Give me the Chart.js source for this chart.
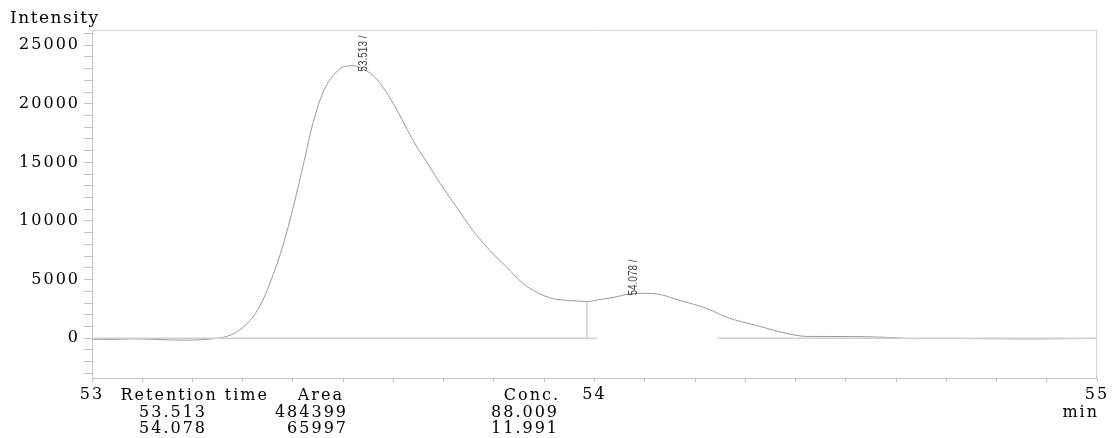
<!DOCTYPE html>
<html>
<head>
<meta charset="utf-8">
<script src="https://cdn.jsdelivr.net/npm/chart.js@4"></script>
<style>
  html, body { margin: 0; padding: 0; background: #fff; }
  #wrap { width: 1113px; height: 438px; }
</style>
</head>
<body>
<div id="wrap"><canvas id="chrom" width="1113" height="438"></canvas></div>
<script>
// chromatogram trace (min / intensity)
var times = [53.000, 53.040, 53.080, 53.120, 53.160, 53.190, 53.215, 53.240, 53.260, 53.280,
  53.300, 53.320, 53.340, 53.360, 53.380, 53.400, 53.420, 53.440, 53.460, 53.480,
  53.500, 53.520, 53.540, 53.560, 53.580, 53.600, 53.620, 53.640, 53.673, 53.693,
  53.726, 53.758, 53.792, 53.826, 53.858, 53.886, 53.917, 53.951, 53.985, 54.011,
  54.037, 54.077, 54.100, 54.124, 54.170, 54.224, 54.264, 54.323, 54.383, 54.423,
  54.500, 54.560, 54.600, 54.630, 54.700, 54.750, 54.800, 54.850, 54.900, 54.950, 55.000]
var intensity = [-80, -110, -60, -100, -150, -170, -140, -60, 60, 350,
  900, 1800, 3250, 5350, 7900, 11100, 14700, 18400, 21000, 22400,
  23150, 23250, 22950, 22400, 21350, 20000, 18400, 16800, 14560, 13200,
  11150, 9190, 7480, 6030, 4660, 3890, 3380, 3210, 3130, 3300,
  3470, 3810, 3830, 3780, 3220, 2530, 1770, 1080, 400, 150,
  140, 100, 30, -40, -20, -40, -50, -70, -60, -40, -30]

// integration baseline (null breaks the line) and the split between peaks
var baseTimes = [53.000, 54.005, 54.100, 54.245, 55.000]
var baseValues = [0, 0, null, 0, 0]
var dropTimes = [53.985, 53.985]
var dropValues = [0, 3130]

// peak table
var retentionTimes = ['53.513', '54.078']
var areas = ['484399', '65997']
var concs = ['88.009', '11.991']
var tableHeaders = ['Retention time', 'Area', 'Conc.']

// axis ticks
var xMajorTicks = [53, 54, 55]
var yMajorTicks = [0, 5000, 10000, 15000, 20000, 25000]

var SERIF = "'DejaVu Serif', 'Liberation Serif', serif"

function pts(xs, ys){
  return xs.map(function(x, i){ return { x: x, y: ys[i] } })
}

function curveAt(t){
  for (var i = 1; i < times.length; i++){
    if (times[i] >= t){
      var f = (t - times[i-1]) / (times[i] - times[i-1])
      return intensity[i-1] + f * (intensity[i] - intensity[i-1])
    }
  }
  return 0
}

var extras = {
  id: 'extras',
  beforeDraw: function(chart){
    chart.ctx.letterSpacing = '2px'
  },
  afterDraw: function(chart){
    var ctx = chart.ctx, a = chart.chartArea
    var xs = chart.scales.x, ys = chart.scales.y
    ctx.save()
    // frame top / right
    ctx.strokeStyle = '#d4d4d4'
    ctx.lineWidth = 1
    ctx.beginPath()
    ctx.moveTo(a.left, a.top + 0.5)
    ctx.lineTo(a.right - 0.5, a.top + 0.5)
    ctx.lineTo(a.right - 0.5, a.bottom)
    ctx.stroke()

    ctx.fillStyle = '#000'
    ctx.font = '17px ' + SERIF
    ctx.letterSpacing = '1.5px'
    ctx.textBaseline = 'alphabetic'
    ctx.textAlign = 'left'
    ctx.fillText('Intensity', 10, 23)

    ctx.font = '16px ' + SERIF
    ctx.letterSpacing = '2px'
    ctx.textAlign = 'right'
    ctx.fillText('min', 1099, 417)

    // peak table under the axis
    var headRight = [269, 344, 560]
    var colRight = [207, 348, 559]
    ctx.fillText(tableHeaders[0], headRight[0], 400)
    ctx.fillText(tableHeaders[1], headRight[1], 400)
    ctx.fillText(tableHeaders[2], headRight[2], 400)
    for (var r = 0; r < retentionTimes.length; r++){
      var yy = 417 + r * 16
      ctx.fillText(retentionTimes[r], colRight[0], yy)
      ctx.fillText(areas[r], colRight[1], yy)
      ctx.fillText(concs[r], colRight[2], yy)
    }

    // rotated peak labels
    ctx.letterSpacing = '0px'
    ctx.font = "12px 'Liberation Sans', 'DejaVu Sans', sans-serif"
    ctx.fillStyle = '#444'
    retentionTimes.forEach(function(rt, i){
      var t = parseFloat(rt)
      var label = rt + ' /'
      var px = xs.getPixelForValue(t) + (i === 0 ? 14 : 0)
      var py = ys.getPixelForValue(curveAt(xs.getValueForPixel(px))) + 2
      var w = ctx.measureText(label).width
      ctx.save()
      ctx.translate(px, py)
      ctx.rotate(-Math.PI / 2)
      ctx.scale(36 / w, 1)
      ctx.textAlign = 'left'
      ctx.textBaseline = 'middle'
      ctx.fillText(label, 0, 0)
      ctx.restore()
    })
    ctx.restore()
    ctx.letterSpacing = '0px'
  }
}

new Chart(document.getElementById('chrom'), {
  type: 'line',
  data: {
    datasets: [
      {
        data: pts(baseTimes, baseValues),
        borderColor: '#cfcfcf',
        borderWidth: 1.5,
        pointRadius: 0,
        spanGaps: false
      },
      {
        data: pts(dropTimes, dropValues),
        borderColor: '#b4b4b4',
        borderWidth: 1,
        pointRadius: 0
      },
      {
        data: pts(times, intensity),
        borderColor: '#9a9a9a',
        borderWidth: 1,
        pointRadius: 0,
        cubicInterpolationMode: 'monotone'
      }
    ]
  },
  options: {
    responsive: false,
    animation: false,
    devicePixelRatio: 1,
    layout: { padding: { top: 30, right: 16, left: 0, bottom: 0 } },
    plugins: { legend: { display: false }, tooltip: { enabled: false } },
    scales: {
      x: {
        type: 'linear',
        min: 53,
        max: 55,
        afterFit: function(s){ s.height = 60 },
        afterBuildTicks: function(s){
          var t = []
          for (var i = 0; i <= 20; i++) t.push({ value: 53 + i * 0.1 })
          s.ticks = t
        },
        grid: { drawOnChartArea: false, tickLength: 4, tickColor: '#c4c4c4' },
        border: { color: '#c4c4c4' },
        ticks: {
          autoSkip: false,
          maxRotation: 0,
          padding: 3,
          color: '#000',
          font: { family: SERIF, size: 16 },
          callback: function(v){
            var hit = xMajorTicks.filter(function(m){ return Math.abs(m - v) < 1e-6 })
            return hit.length ? String(hit[0]) : ''
          }
        }
      },
      y: {
        min: -3400,
        max: 26300,
        afterFit: function(s){ s.width = 92 },
        afterBuildTicks: function(s){
          var t = []
          for (var v = -3000; v <= 26000; v += 1000) t.push({ value: v })
          s.ticks = t
        },
        grid: { drawOnChartArea: false, tickLength: 8, tickColor: '#c4c4c4' },
        border: { color: '#c4c4c4' },
        ticks: {
          autoSkip: false,
          padding: 4,
          color: '#000',
          font: { family: SERIF, size: 16 },
          callback: function(v){
            return yMajorTicks.indexOf(v) >= 0 ? String(v) : ''
          }
        }
      }
    }
  },
  plugins: [extras]
})
</script>
</body>
</html>
